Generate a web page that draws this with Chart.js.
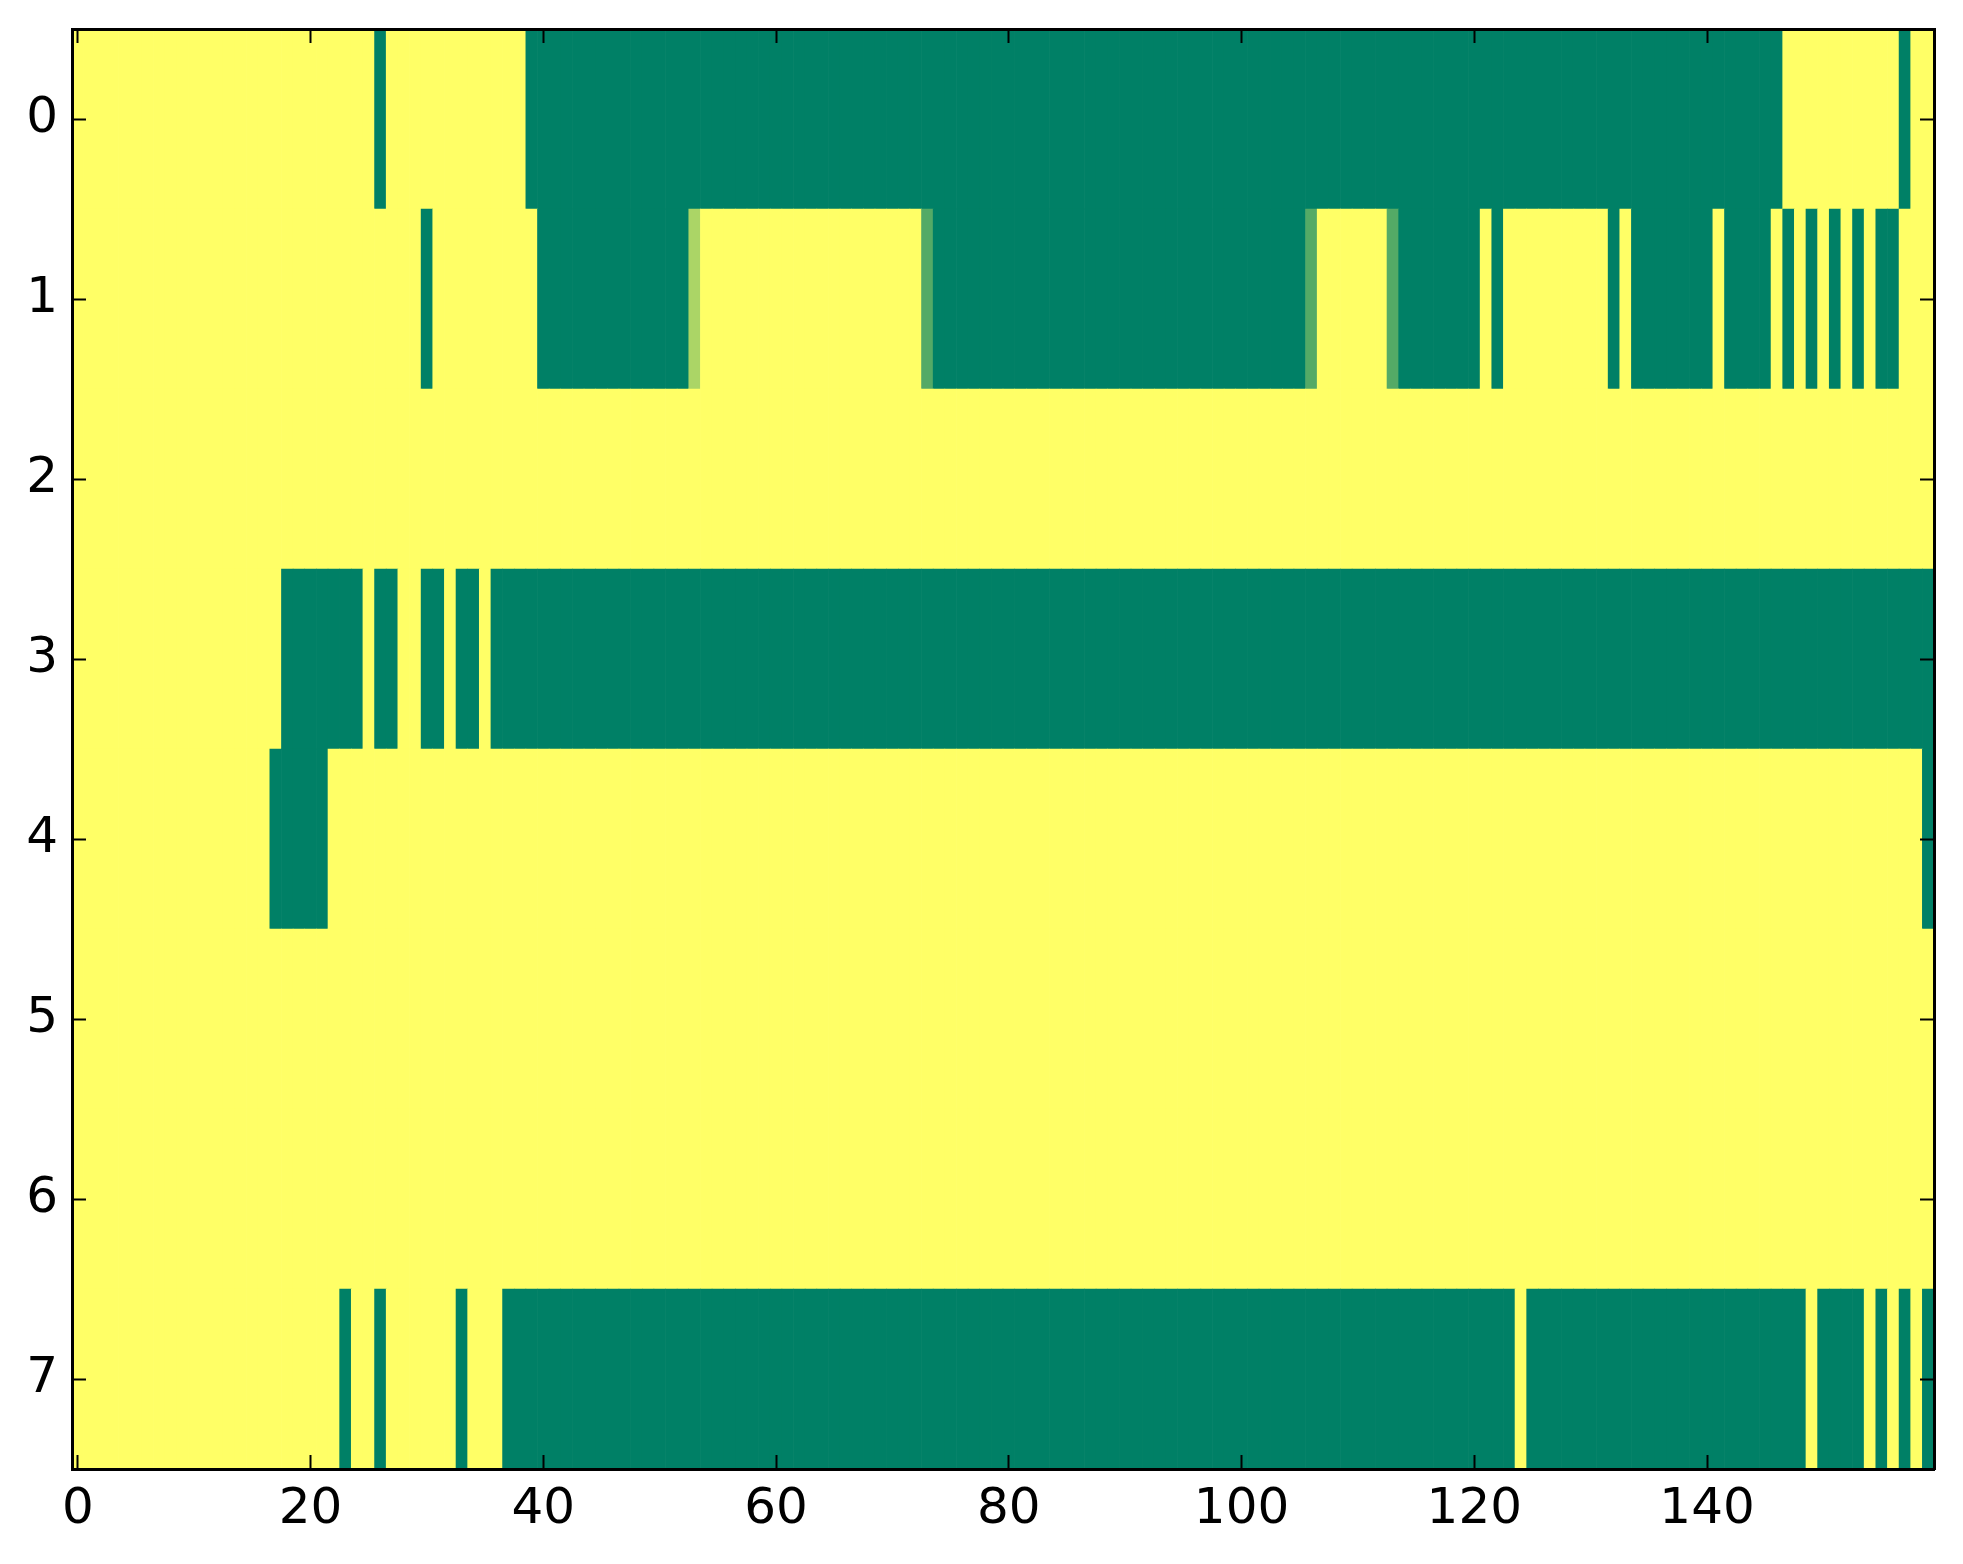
<!DOCTYPE html>
<html><head><meta charset="utf-8">
<style>html,body{margin:0;padding:0;background:#fff;overflow:hidden}canvas{display:block}</style>
<script src="https://cdn.jsdelivr.net/npm/chart.js"></script>
</head><body>
<canvas id="c" width="1963" height="1564"></canvas>
<script>
const rowLabels = ['0','1','2','3','4','5','6','7'];
const xTickValues = [0,20,40,60,80,100,120,140];

const row0 = [
1,1,1,1,1,1,1,1,1,1,1,1,1,1,1,1,1,1,1,1,
1,1,1,1,1,1,0,1,1,1,1,1,1,1,1,1,1,1,1,0,
0,0,0,0,0,0,0,0,0,0,0,0,0,0,0,0,0,0,0,0,
0,0,0,0,0,0,0,0,0,0,0,0,0,0,0,0,0,0,0,0,
0,0,0,0,0,0,0,0,0,0,0,0,0,0,0,0,0,0,0,0,
0,0,0,0,0,0,0,0,0,0,0,0,0,0,0,0,0,0,0,0,
0,0,0,0,0,0,0,0,0,0,0,0,0,0,0,0,0,0,0,0,
0,0,0,0,0,0,0,1,1,1,1,1,1,1,1,1,1,0,1,1];
const row1 = [
1,1,1,1,1,1,1,1,1,1,1,1,1,1,1,1,1,1,1,1,
1,1,1,1,1,1,1,1,1,1,0,1,1,1,1,1,1,1,1,1,
0,0,0,0,0,0,0,0,0,0,0,0,0,0.67,1,1,1,1,1,1,
1,1,1,1,1,1,1,1,1,1,1,1,1,0.33,0,0,0,0,0,0,
0,0,0,0,0,0,0,0,0,0,0,0,0,0,0,0,0,0,0,0,
0,0,0,0,0,0,0.33,1,1,1,1,1,1,0.33,0,0,0,0,0,0,
0,1,0,1,1,1,1,1,1,1,1,1,0,1,0,0,0,0,0,0,
0,1,0,0,0,0,1,0,1,0,1,0,1,0,1,0,0,1,1,1];
const row2 = [
1,1,1,1,1,1,1,1,1,1,1,1,1,1,1,1,1,1,1,1,
1,1,1,1,1,1,1,1,1,1,1,1,1,1,1,1,1,1,1,1,
1,1,1,1,1,1,1,1,1,1,1,1,1,1,1,1,1,1,1,1,
1,1,1,1,1,1,1,1,1,1,1,1,1,1,1,1,1,1,1,1,
1,1,1,1,1,1,1,1,1,1,1,1,1,1,1,1,1,1,1,1,
1,1,1,1,1,1,1,1,1,1,1,1,1,1,1,1,1,1,1,1,
1,1,1,1,1,1,1,1,1,1,1,1,1,1,1,1,1,1,1,1,
1,1,1,1,1,1,1,1,1,1,1,1,1,1,1,1,1,1,1,1];
const row3 = [
1,1,1,1,1,1,1,1,1,1,1,1,1,1,1,1,1,1,0,0,
0,0,0,0,0,1,0,0,1,1,0,0,1,0,0,1,0,0,0,0,
0,0,0,0,0,0,0,0,0,0,0,0,0,0,0,0,0,0,0,0,
0,0,0,0,0,0,0,0,0,0,0,0,0,0,0,0,0,0,0,0,
0,0,0,0,0,0,0,0,0,0,0,0,0,0,0,0,0,0,0,0,
0,0,0,0,0,0,0,0,0,0,0,0,0,0,0,0,0,0,0,0,
0,0,0,0,0,0,0,0,0,0,0,0,0,0,0,0,0,0,0,0,
0,0,0,0,0,0,0,0,0,0,0,0,0,0,0,0,0,0,0,0];
const row4 = [
1,1,1,1,1,1,1,1,1,1,1,1,1,1,1,1,1,0,0,0,
0,0,1,1,1,1,1,1,1,1,1,1,1,1,1,1,1,1,1,1,
1,1,1,1,1,1,1,1,1,1,1,1,1,1,1,1,1,1,1,1,
1,1,1,1,1,1,1,1,1,1,1,1,1,1,1,1,1,1,1,1,
1,1,1,1,1,1,1,1,1,1,1,1,1,1,1,1,1,1,1,1,
1,1,1,1,1,1,1,1,1,1,1,1,1,1,1,1,1,1,1,1,
1,1,1,1,1,1,1,1,1,1,1,1,1,1,1,1,1,1,1,1,
1,1,1,1,1,1,1,1,1,1,1,1,1,1,1,1,1,1,1,0];
const row5 = [
1,1,1,1,1,1,1,1,1,1,1,1,1,1,1,1,1,1,1,1,
1,1,1,1,1,1,1,1,1,1,1,1,1,1,1,1,1,1,1,1,
1,1,1,1,1,1,1,1,1,1,1,1,1,1,1,1,1,1,1,1,
1,1,1,1,1,1,1,1,1,1,1,1,1,1,1,1,1,1,1,1,
1,1,1,1,1,1,1,1,1,1,1,1,1,1,1,1,1,1,1,1,
1,1,1,1,1,1,1,1,1,1,1,1,1,1,1,1,1,1,1,1,
1,1,1,1,1,1,1,1,1,1,1,1,1,1,1,1,1,1,1,1,
1,1,1,1,1,1,1,1,1,1,1,1,1,1,1,1,1,1,1,1];
const row6 = [
1,1,1,1,1,1,1,1,1,1,1,1,1,1,1,1,1,1,1,1,
1,1,1,1,1,1,1,1,1,1,1,1,1,1,1,1,1,1,1,1,
1,1,1,1,1,1,1,1,1,1,1,1,1,1,1,1,1,1,1,1,
1,1,1,1,1,1,1,1,1,1,1,1,1,1,1,1,1,1,1,1,
1,1,1,1,1,1,1,1,1,1,1,1,1,1,1,1,1,1,1,1,
1,1,1,1,1,1,1,1,1,1,1,1,1,1,1,1,1,1,1,1,
1,1,1,1,1,1,1,1,1,1,1,1,1,1,1,1,1,1,1,1,
1,1,1,1,1,1,1,1,1,1,1,1,1,1,1,1,1,1,1,1];
const row7 = [
1,1,1,1,1,1,1,1,1,1,1,1,1,1,1,1,1,1,1,1,
1,1,1,0,1,1,0,1,1,1,1,1,1,0,1,1,1,0,0,0,
0,0,0,0,0,0,0,0,0,0,0,0,0,0,0,0,0,0,0,0,
0,0,0,0,0,0,0,0,0,0,0,0,0,0,0,0,0,0,0,0,
0,0,0,0,0,0,0,0,0,0,0,0,0,0,0,0,0,0,0,0,
0,0,0,0,0,0,0,0,0,0,0,0,0,0,0,0,0,0,0,0,
0,0,0,0,1,0,0,0,0,0,0,0,0,0,0,0,0,0,0,0,
0,0,0,0,0,0,0,0,0,1,0,0,0,0,1,0,1,0,1,0];

const rows = [row0,row1,row2,row3,row4,row5,row6,row7];
const nCols = row0.length;

// matplotlib "summer" colormap
function summer(v){
  return 'rgb(' + Math.round(255*v) + ',' + Math.round(255*(0.5+0.5*v)) + ',102)';
}

const cells = [], colors = [];
rows.forEach((vals, r) => vals.forEach((v, c) => {
  cells.push({x: [c - 0.5, c + 0.5], y: rowLabels[r]});
  colors.push(summer(v));
}));

const labelFont = {family: '"DejaVu Sans", sans-serif', size: 50};
const tickGrid = {display: true, drawOnChartArea: false, drawTicks: true, tickLength: -14, tickWidth: 2, tickColor: '#000', z: 1, offset: false};
const frame = {display: true, color: '#000', width: 3, z: 1};
const setXTicks = s => { s.ticks = xTickValues.map(v => ({value: v})); };
const fixSize = (prop, val) => s => {
  s[prop] = val;
  s.paddingTop = 0; s.paddingBottom = 0; s.paddingLeft = 0; s.paddingRight = 0;
};

new Chart(document.getElementById('c'), {
  type: 'bar',
  data: {
    labels: rowLabels,
    datasets: [{
      data: cells,
      backgroundColor: colors,
      borderWidth: 0,
      barPercentage: 1,
      categoryPercentage: 1
    }]
  },
  options: {
    indexAxis: 'y',
    responsive: false,
    devicePixelRatio: 1,
    animation: false,
    events: [],
    layout: {padding: 0},
    plugins: {legend: {display: false}, tooltip: {enabled: false}},
    scales: {
      x: {
        type: 'linear', position: 'bottom', min: -0.5, max: nCols - 0.5,
        afterBuildTicks: setXTicks,
        ticks: {font: labelFont, color: '#000', padding: 25, autoSkip: false, maxRotation: 0, callback: v => String(v)},
        grid: tickGrid, border: frame,
        afterFit: fixSize('height', 95)
      },
      x2: {
        type: 'linear', position: 'top', min: -0.5, max: nCols - 0.5,
        afterBuildTicks: setXTicks,
        ticks: {display: false},
        grid: tickGrid, border: frame,
        afterFit: fixSize('height', 29)
      },
      y: {
        type: 'category', position: 'left', labels: rowLabels, offset: true,
        ticks: {font: labelFont, color: '#000', padding: 28, autoSkip: false},
        grid: tickGrid, border: frame,
        afterFit: fixSize('width', 72)
      },
      y2: {
        type: 'category', position: 'right', labels: rowLabels, offset: true,
        ticks: {display: false},
        grid: tickGrid, border: frame,
        afterFit: fixSize('width', 29)
      }
    }
  }
});
</script>
</body></html>
